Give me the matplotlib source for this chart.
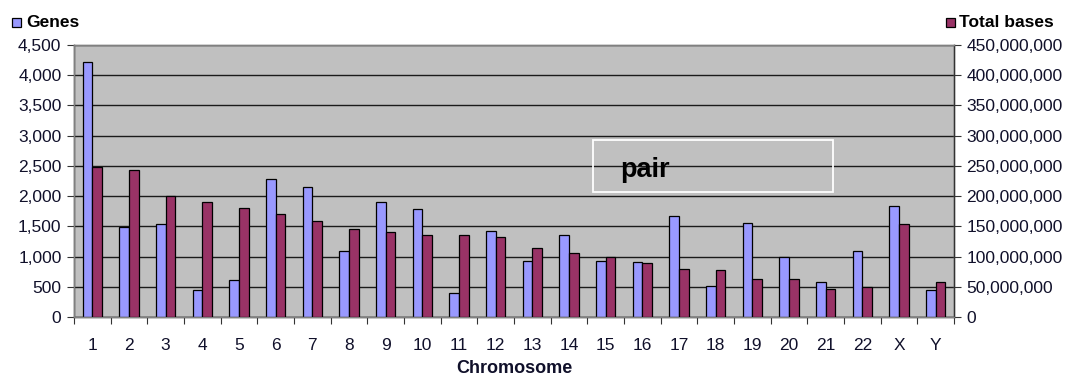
import matplotlib
matplotlib.use('Agg')
import matplotlib.pyplot as plt
import matplotlib.patches as mpatches
from matplotlib.ticker import FuncFormatter, MultipleLocator, FixedLocator
import numpy as np

# 数据
chromosomes = ['1', '2', '3', '4', '5', '6', '7', '8', '9', '10', '11', '12',
               '13', '14', '15', '16', '17', '18', '19', '20', '21', '22', 'X', 'Y']
genes = [4220, 1490, 1540, 450, 610, 2280, 2145, 1095, 1905, 1785, 390, 1430,
         930, 1350, 930, 905, 1675, 515, 1555, 1000, 585, 1090, 1838, 440]
total_bases = [248e6, 243e6, 200e6, 191e6, 181e6, 170e6, 158e6, 146e6, 140e6,
               135e6, 135e6, 133e6, 114e6, 106e6, 100e6, 89e6, 79e6, 77e6,
               63e6, 63e6, 47e6, 49e6, 154e6, 58e6]

blue = '#9999FF'
maroon = '#993366'
txt = '#10102a'

W, H = 1069, 376
L, R, T, B = 74, 954, 45, 317

plt.rcParams['font.family'] = ['Liberation Sans', 'DejaVu Sans']

fig = plt.figure(figsize=(W / 100, H / 100), dpi=100)
ax = fig.add_axes([L / W, 1 - B / H, (R - L) / W, (B - T) / H])
ax2 = ax.twinx()

x = np.arange(len(chromosomes))
w = 0.265
ax.bar(x - w / 2, genes, width=w, color=blue, edgecolor='black', linewidth=0.9, zorder=3)
ax2.bar(x + w / 2, total_bases, width=w, color=maroon, edgecolor='black', linewidth=0.9, zorder=3)

ax.set_facecolor('#C0C0C0')
ax2.set_facecolor('none')
ax.set_xlim(-0.5, len(chromosomes) - 0.5)
ax.set_ylim(0, 4500)
ax2.set_ylim(0, 450e6)

ax.yaxis.set_major_locator(MultipleLocator(500))
ax2.yaxis.set_major_locator(MultipleLocator(50e6))
ax.yaxis.set_major_formatter(FuncFormatter(lambda v, p: f'{int(v):,}'))
ax2.yaxis.set_major_formatter(FuncFormatter(lambda v, p: f'{int(v):,}'))
ax.grid(axis='y', color='#1a1a1a', linewidth=1.0, zorder=1)
ax.set_axisbelow(True)

# x 轴：刻度在类别之间
ax.xaxis.set_major_locator(FixedLocator(np.arange(-0.5, len(chromosomes), 1.0)))
ax.xaxis.set_major_formatter(FuncFormatter(lambda v, p: ''))
ax.xaxis.set_minor_locator(FixedLocator(x))
ax.set_xticklabels(chromosomes, minor=True)
ax.tick_params(axis='x', which='major', length=5, direction='out', color='#333333')
ax.tick_params(axis='x', which='minor', length=0, pad=15, labelsize=12.5, labelcolor=txt)
ax.tick_params(axis='y', length=5, pad=4, direction='out', labelsize=12.5, labelcolor=txt, color='#333333')
ax2.tick_params(axis='y', length=5, pad=4, direction='out', labelsize=12.5, labelcolor=txt, color='#333333')

for a in (ax, ax2):
    for s in a.spines.values():
        s.set_color('#808080')
        s.set_linewidth(1.0)
ax.spines['left'].set_color('#333333')
ax2.spines['right'].set_color('#333333')
ax.spines['bottom'].set_color('#333333')

ax.set_xlabel('Chromosome', fontsize=13, fontweight='bold', color=txt, labelpad=5.5)

# 图例
fig.patches.append(mpatches.Rectangle((12 / W, 1 - 26.5 / H), 9 / W, 9 / H,
                                      transform=fig.transFigure, facecolor=blue,
                                      edgecolor='black', linewidth=0.9))
fig.text(26 / W, 1 - 27 / H, 'Genes', fontsize=12.5, fontweight='bold',
         va='baseline', ha='left', color='black')
fig.patches.append(mpatches.Rectangle((946 / W, 1 - 26.5 / H), 9 / W, 9 / H,
                                      transform=fig.transFigure, facecolor=maroon,
                                      edgecolor='black', linewidth=0.9))
fig.text(959 / W, 1 - 27 / H, 'Total bases', fontsize=12.5, fontweight='bold',
         va='baseline', ha='left', color='black')

# 白框 "pair"
box = mpatches.Rectangle(((593 - L) / (R - L), (B - 192) / (B - T)), 240 / (R - L), 52 / (B - T),
                         transform=ax.transAxes, facecolor='none', edgecolor='white',
                         linewidth=1.3, zorder=4)
ax2.add_patch(box)
ax2.text((620 - L) / (R - L), (B - 177) / (B - T), 'pair', transform=ax.transAxes,
         fontsize=19.5, fontweight='bold', va='baseline', ha='left', color='black', zorder=5)

fig.savefig('out.png', dpi=100)
